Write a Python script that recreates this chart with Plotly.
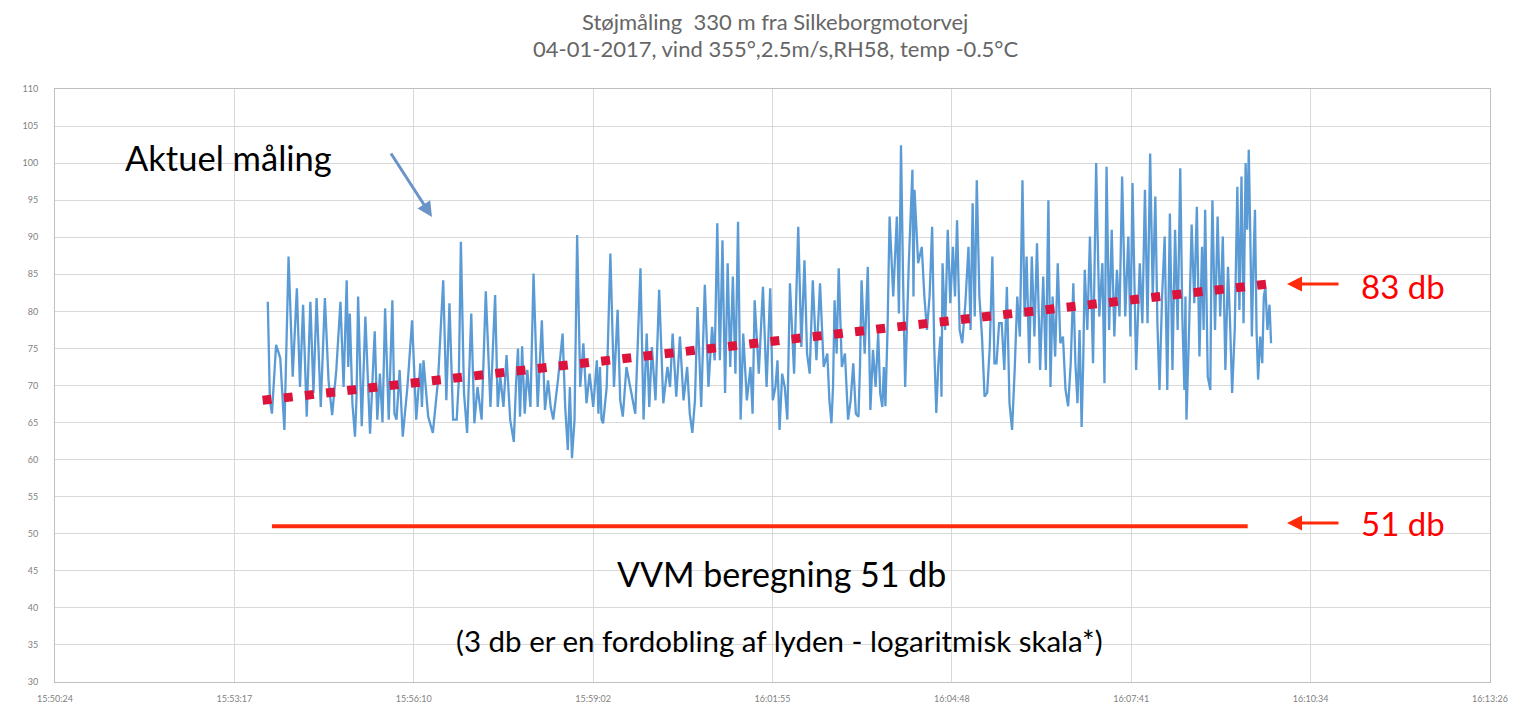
import plotly.graph_objects as go

# ---- data ----
tick_labels = ["15:50:24", "15:53:17", "15:56:10", "15:59:02", "16:01:55",
               "16:04:48", "16:07:41", "16:10:34", "16:13:26"]
tick_step_sec = 172.8          # Excel major unit 0.002 day
y_ticks = list(range(30, 111, 5))

# seconds after 15:50:24 of each pair of readings
pair_sec = [205, 209, 217, 225, 233, 239, 246, 252, 260, 267, 275, 281, 284, 289, 292, 299, 308, 313, 318, 325, 329, 335, 344, 352,
            355, 364, 374, 380, 387, 391, 397, 401, 407, 415, 424, 429, 435, 442, 446, 450, 455, 461, 469, 475, 480, 489, 494, 498, 503, 509, 515, 522,
            525, 528, 535, 542, 547, 554, 564, 570, 575, 582, 590, 595, 602, 609, 614, 619, 626, 633, 638, 643, 648, 653, 658, 663, 670, 674, 682,
            689, 694, 698, 703, 708, 716, 722, 727, 730, 737, 744, 748, 751, 755, 761, 764, 769, 774, 777, 783, 788, 793, 797,
            800, 804, 811, 815, 819, 826, 828, 835, 840, 845, 849, 853, 855, 860, 865, 869, 874, 880, 884, 888, 893, 898, 903, 907, 912, 917, 922, 927, 932, 936, 941, 946,
            952, 957, 961, 966, 971, 976, 981, 985, 989, 992, 997, 1003, 1009, 1013, 1018, 1023, 1028, 1034, 1038, 1045, 1050, 1055, 1060, 1064,
            1069, 1074, 1079, 1084, 1088, 1090, 1095, 1100, 1105, 1108, 1113, 1115, 1120, 1125, 1130, 1134, 1139, 1143, 1147, 1150, 1153, 1156, 1159, 1163, 1166, 1170]

# measured level (dB), two readings per pair
db_values = [
    81.3, 68.0, 66.2, 75.5, 73.7, 64.0, 87.4, 71.2, 83.1, 69.8, 80.9, 65.8, 81.3, 69.0, 81.8, 67.1, 81.8, 70.7, 66.0, 72.1,
    81.3, 69.8, 84.2, 72.5, 79.7, 67.6, 63.1, 68.5, 82.0, 64.5, 79.3, 63.5, 77.3, 65.4, 71.6, 65.0, 80.4, 65.4, 81.5, 66.2,
    65.4, 72.1, 63.1, 69.8, 78.8, 65.4, 73.0, 67.1,
    73.4, 65.8, 63.6, 70.7, 84.2, 68.0, 81.1, 65.4, 65.4, 70.7, 89.4, 69.0, 63.6, 72.1, 79.7, 64.9, 69.8, 65.4, 82.7, 67.1,
    82.2, 67.1, 71.2, 67.1, 74.1, 65.4, 62.4, 69.8, 75.0, 65.8, 75.3, 66.2, 72.1, 67.1, 85.1, 67.1, 78.8, 66.7, 70.7, 67.1,
    65.4, 70.7, 77.0, 67.1, 61.3, 69.8, 60.2, 65.4, 90.3, 69.8, 75.7, 67.6, 71.6, 67.1, 73.4, 66.2,
    72.5, 65.4, 64.9, 69.8, 87.8, 69.8, 80.2, 68.0, 65.8, 72.5, 69.8, 66.2, 85.8, 65.4, 77.0, 67.1, 75.2, 68.0, 82.9, 67.6,
    72.5, 69.8, 77.0, 68.5, 76.6, 68.0, 72.5, 66.2, 63.6, 68.0, 80.6, 67.1, 83.6, 69.8, 77.9, 73.4, 91.9, 73.4, 89.6, 69.0,
    86.5, 72.5, 84.7, 71.6, 92.1, 65.4, 77.0, 68.0, 72.5, 66.2, 81.5, 71.6, 83.3, 69.8,
    83.1, 68.0, 69.8, 73.4, 64.0, 71.6, 69.8, 65.4, 83.8, 71.6, 91.4, 75.2, 86.9, 74.3, 71.6, 77.0, 84.2, 73.4, 83.8, 72.5,
    74.3, 68.0, 64.9, 69.8, 81.5, 74.3, 85.8, 72.5, 74.3, 69.8, 65.4, 68.0, 73.0, 66.2, 65.8, 72.5, 84.2, 74.3, 86.0, 66.7,
    74.8, 69.8, 77.0, 68.9, 67.1, 72.5,
    67.2, 77.5, 92.8, 82.0, 92.8, 79.7, 102.4, 84.2, 69.8, 86.5, 99.1, 82.0, 96.4, 86.5, 88.7, 82.0, 77.5, 82.0, 91.4, 75.2,
    66.3, 73.0, 76.6, 68.5, 86.5, 77.5, 91.0, 81.1, 88.7, 82.0, 92.3, 77.5, 75.7, 81.1, 88.7, 77.5, 94.6, 79.3, 97.7, 82.0,
    76.6, 68.5, 69.0, 75.2, 87.4, 73.0, 73.0, 78.4, 78.4, 72.1, 83.3, 67.6, 64.0, 72.1, 82.0, 76.6, 97.7, 79.3, 87.4, 73.0,
    87.4, 76.6, 89.2, 72.1,
    84.7, 72.1, 95.0, 69.8, 82.0, 73.9, 86.5, 75.7, 76.6, 69.4, 67.2, 73.0, 83.8, 73.0, 67.6, 77.5, 64.4, 73.0, 85.6, 77.5,
    90.1, 73.0, 100.0, 79.3, 86.5, 70.3, 99.5, 77.5, 91.0, 76.6, 85.6, 79.3, 98.2, 79.3, 90.1, 76.6, 97.3, 72.1, 86.5, 78.4,
    96.4, 78.4, 101.3, 82.0, 95.5, 78.4, 69.4, 82.0,
    90.1, 69.4, 93.2, 72.1, 91.0, 77.5, 99.3, 79.3, 69.4, 82.0, 65.4, 77.5, 91.7, 81.1, 94.1, 73.9, 88.7, 77.5, 93.7, 71.2,
    69.4, 86.5, 95.0, 77.5, 92.8, 79.3, 90.1, 72.1, 86.0, 78.4, 69.0, 77.5, 96.8, 80.2, 98.2, 78.4, 100.0, 91.0, 101.8, 90.1,
    76.6, 86.5, 93.7, 77.5, 70.8, 76.6, 73.0, 82.0, 83.3, 77.5, 80.9, 75.7,
]

# linear trend of the measurement (start / end)
trend_sec = [200, 1169]
trend_db = [68.0, 83.7]

# VVM computed level
vvm_sec = [209, 1149]
vvm_db = [51, 51]

# ---- build the series ----
xs, ys = [], []
for i, t in enumerate(pair_sec):
    a, b = db_values[2 * i], db_values[2 * i + 1]
    nxt = pair_sec[i + 1] if i + 1 < len(pair_sec) else t + 3
    xs += [t, (t + nxt) / 2]
    ys += [a, b]

tick_vals = [i * tick_step_sec for i in range(len(tick_labels))]

fig = go.Figure()
fig.add_trace(go.Scatter(x=xs, y=ys, mode="lines",
                         line=dict(color="#5b9bd5", width=2.3), hoverinfo="skip"))
fig.add_trace(go.Scatter(x=trend_sec, y=trend_db, mode="lines",
                         line=dict(color="#dc143c", width=9, dash="9px,12.3px")))
fig.add_trace(go.Scatter(x=vvm_sec, y=vvm_db, mode="lines",
                         line=dict(color="#ff2d0d", width=4)))

# page has an 8px body margin, so the figure is drawn 8px smaller
OFF = 8
W, H = 1525 - OFF, 709 - OFF
L, R, T, B = 55 - OFF, 35, 89 - OFF, 27
pw, ph = W - L - R, H - T - B


def px(xp):  # page pixel -> paper x
    return (xp - OFF - L) / pw


def py(yp):  # page pixel -> paper y
    return (H - B - (yp - OFF)) / ph


txt = "Lato, Arial, sans-serif"
ann = [
    dict(x=px(775), y=py(21), text="Støjmåling  330 m fra Silkeborgmotorvej",
         font=dict(size=22, color="#666666", family=txt)),
    dict(x=px(775), y=py(48), text="04-01-2017, vind 355°,2.5m/s,RH58, temp -0.5°C",
         font=dict(size=22, color="#666666", family=txt)),
    dict(x=px(228), y=py(157), text="Aktuel måling", font=dict(size=34.5, color="#000000", family=txt)),
    dict(x=px(432), y=py(217), text="", showarrow=True, ax=-42, ay=-65,
         arrowcolor="#6a93c8", arrowwidth=3, arrowhead=2, arrowsize=1),
    dict(x=px(1403), y=py(286), text="83 db", font=dict(size=33, color="#ff0000", family=txt)),
    dict(x=px(1287), y=py(284), text="", showarrow=True, ax=53, ay=0,
         arrowcolor="#ff2a0a", arrowwidth=3, arrowhead=2, arrowsize=1),
    dict(x=px(1403), y=py(523), text="51 db", font=dict(size=33, color="#ff0000", family=txt)),
    dict(x=px(1287), y=py(523), text="", showarrow=True, ax=53, ay=0,
         arrowcolor="#ff2a0a", arrowwidth=3, arrowhead=2, arrowsize=1),
    dict(x=px(781), y=py(573), text="VVM beregning 51 db", font=dict(size=34, color="#000000", family=txt)),
    dict(x=px(780), y=py(640), text="(3 db er en fordobling af lyden - logaritmisk skala*)",
         font=dict(size=29.5, color="#000000", family=txt)),
]
for a in ann:
    a.setdefault("showarrow", False)
    a.update(xref="paper", yref="paper", xanchor="center", yanchor="middle")

fig.update_layout(
    width=W, height=H,
    margin=dict(l=L, r=R, t=T, b=B, autoexpand=False),
    paper_bgcolor="white", plot_bgcolor="white",
    showlegend=False,
    annotations=ann,
)
fig.update_xaxes(range=[0, tick_vals[-1]], tickvals=tick_vals, ticktext=tick_labels,
                 showgrid=True, gridcolor="#d9d9d9", gridwidth=1,
                 showline=True, linecolor="#bfbfbf", mirror=True, zeroline=False,
                 tickfont=dict(size=9, color="#7f7f7f", family=txt), ticks="", ticklabelstandoff=8)
fig.update_yaxes(range=[30, 110], tickvals=y_ticks,
                 showgrid=True, gridcolor="#d9d9d9", gridwidth=1,
                 showline=True, linecolor="#bfbfbf", mirror=True, zeroline=False,
                 tickfont=dict(size=9, color="#7f7f7f", family=txt), ticks="", ticklabelstandoff=14)

fig.write_html("out.html")
